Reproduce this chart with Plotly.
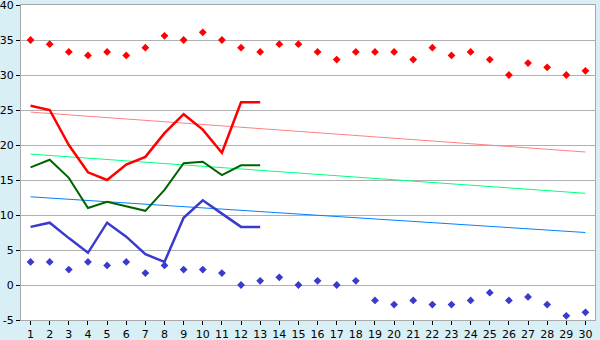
import plotly.graph_objects as go

days = list(range(1, 31))
record_high = [35.0, 34.4, 33.3, 32.8, 33.3, 32.8, 33.9, 35.6, 35.0, 36.1,
               35.0, 33.9, 33.3, 34.4, 34.4, 33.3, 32.2, 33.3, 33.3, 33.3,
               32.2, 33.9, 32.8, 33.3, 32.2, 30.0, 31.7, 31.1, 30.0, 30.6]
record_low = [3.3, 3.3, 2.2, 3.3, 2.8, 3.3, 1.7, 2.8, 2.2, 2.2,
              1.7, 0.0, 0.6, 1.1, 0.0, 0.6, 0.0, 0.6, -2.2, -2.8,
              -2.2, -2.8, -2.8, -2.2, -1.1, -2.2, -1.7, -2.8, -4.4, -3.9]
obs_days = list(range(1, 14))
high = [25.6, 25.0, 20.0, 16.1, 15.0, 17.2, 18.3, 21.7, 24.4, 22.2, 18.9, 26.1, 26.1]
mean = [16.8, 17.9, 15.3, 11.0, 11.9, 11.3, 10.6, 13.6, 17.4, 17.6, 15.7, 17.1, 17.1]
low = [8.3, 8.9, 6.7, 4.6, 8.9, 6.9, 4.4, 3.3, 9.6, 12.1, 10.2, 8.3, 8.3]
trend_days = [1, 30]
normal_high = [24.7, 19.0]
normal_mean = [18.7, 13.1]
normal_low = [12.6, 7.5]
y_ticks = [-5, 0, 5, 10, 15, 20, 25, 30, 35, 40]
y_labels = ["-5", "0", "5", "10", "15", "20", "25", "30", "35", "40"]

fig = go.Figure()
fig.add_trace(go.Scatter(x=trend_days, y=normal_high, mode="lines",
                         line=dict(color="#ff8080", width=1)))
fig.add_trace(go.Scatter(x=trend_days, y=normal_mean, mode="lines",
                         line=dict(color="#00ff80", width=1)))
fig.add_trace(go.Scatter(x=trend_days, y=normal_low, mode="lines",
                         line=dict(color="#0080ff", width=1)))
fig.add_trace(go.Scatter(x=obs_days, y=high, mode="lines",
                         line=dict(color="#ff0000", width=2.5)))
fig.add_trace(go.Scatter(x=obs_days, y=mean, mode="lines",
                         line=dict(color="#006400", width=2)))
fig.add_trace(go.Scatter(x=obs_days, y=low, mode="lines",
                         line=dict(color="#3a3acc", width=2.5)))
fig.add_trace(go.Scatter(x=days, y=record_high, mode="markers",
                         marker=dict(symbol="diamond", size=6, color="#ff0000")))
fig.add_trace(go.Scatter(x=days, y=record_low, mode="markers",
                         marker=dict(symbol="diamond", size=6, color="#3a3acc")))

fig.update_layout(
    width=600, height=340,
    margin=dict(l=21, r=5, t=5, b=20),
    paper_bgcolor="#d9eff6",
    plot_bgcolor="#ffffff",
    showlegend=False,
    font=dict(family="DejaVu Sans", size=11, color="#000000"),
)
fig.update_xaxes(range=[0.5, 30.5], tickvals=days, ticktext=[str(d) for d in days],
                 automargin=False, ticklabeloverflow="allow",
                 showgrid=False, zeroline=False, showline=True, mirror=True,
                 linecolor="#a8a8a8", linewidth=1, ticks="outside", ticklen=4,
                 tickcolor="#000000")
fig.update_yaxes(range=[-5, 40], tickvals=y_ticks, ticktext=y_labels,
                 automargin=False, ticklabeloverflow="allow",
                 showgrid=True, gridcolor="#b0b0b0", gridwidth=1, zeroline=False,
                 showline=True, mirror=True, linecolor="#a8a8a8", linewidth=1,
                 ticks="outside", ticklen=4, tickcolor="#000000")

fig.write_html("out.html")
